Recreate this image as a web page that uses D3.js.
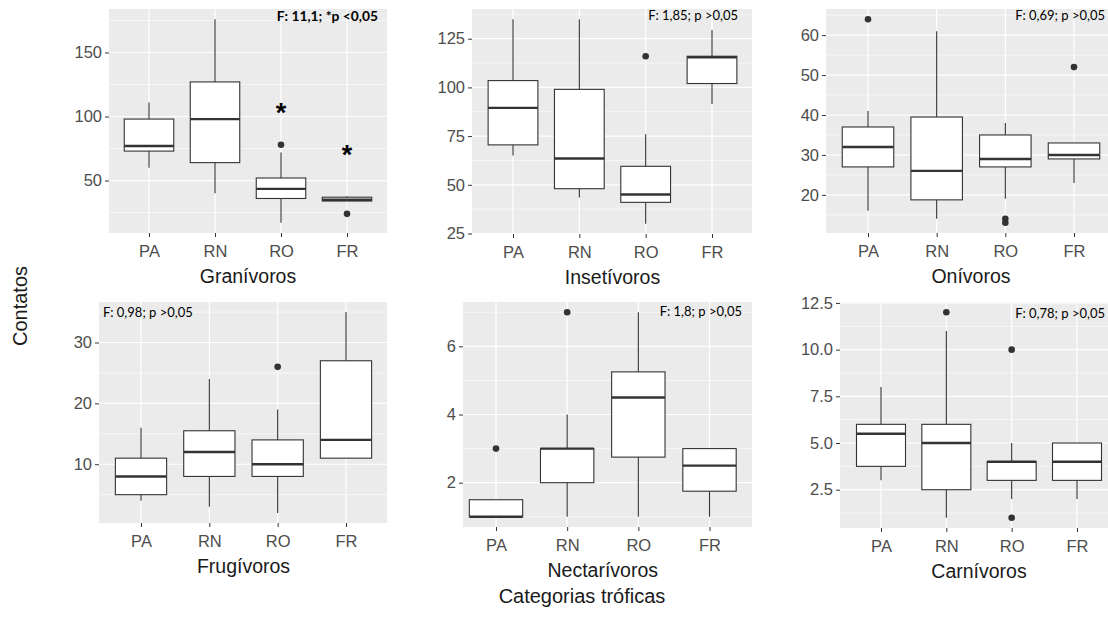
<!DOCTYPE html>
<html>
<head>
<meta charset="utf-8">
<script src="https://cdn.jsdelivr.net/npm/d3@7"></script>
<style>body{margin:0;background:#fff}</style>
</head>
<body>
<div id="chart"></div>
<script>
var groups = ["PA", "RN", "RO", "FR"];

// [min, q1, median, q3, max] for each group
var granivoros = [[60, 73, 77, 98, 111], [40, 64, 98, 127, 176], [17, 36, 43.5, 52, 72], [34, 34, 35, 37, 38]];
var granivorosOut = [[], [], [78], [24]];
var granivorosStars = [null, null, 107, 74];
var granivorosTicks = [50, 100, 150];

var insetivoros = [[65, 70.5, 89.5, 103.5, 135], [43.5, 48, 63.5, 99, 135], [30, 41, 45, 59.5, 76], [91.5, 102, 115.5, 116, 129.5]];
var insetivorosOut = [[], [], [116], []];
var insetivorosTicks = [25, 50, 75, 100, 125];

var onivoros = [[16, 27, 32, 37, 41], [14, 18.75, 26, 39.5, 61], [19, 27, 29, 35, 38], [23, 29, 30, 33, 33]];
var onivorosOut = [[64], [], [14, 13], [52]];
var onivorosTicks = [20, 30, 40, 50, 60];

var frugivoros = [[4, 5, 8, 11, 16], [3, 8, 12, 15.5, 24], [2, 8, 10, 14, 19], [11, 11, 14, 27, 35]];
var frugivorosOut = [[], [], [26], []];
var frugivorosTicks = [10, 20, 30];

var nectarivoros = [[1, 1, 1, 1.5, 1.5], [1, 2, 3, 3, 4], [1, 2.75, 4.5, 5.25, 7], [1, 1.75, 2.5, 3, 3]];
var nectarivorosOut = [[3], [7], [], []];
var nectarivorosTicks = [2, 4, 6];

var carnivoros = [[3, 3.75, 5.5, 6, 8], [1, 2.5, 5, 6, 11], [2, 3, 4, 4, 5], [2, 3, 4, 5, 5]];
var carnivorosOut = [[], [12], [10, 1], []];
var carnivorosTicks = [2.5, 5, 7.5, 10, 12.5];

var titles = ["Granívoros", "Insetívoros", "Onívoros", "Frugívoros", "Nectarívoros", "Carnívoros"];
var notes = ["F: 11,1; *p <0,05", "F: 1,85; p >0,05", "F: 0,69; p >0,05", "F: 0,98; p >0,05", "F: 1,8; p >0,05", "F: 0,78; p >0,05"];

var panels = [
    {stats: granivoros, out: granivorosOut, ticks: granivorosTicks, stars: granivorosStars, fmt: d3.format("d")},
    {stats: insetivoros, out: insetivorosOut, ticks: insetivorosTicks, fmt: d3.format("d")},
    {stats: onivoros, out: onivorosOut, ticks: onivorosTicks, fmt: d3.format("d")},
    {stats: frugivoros, out: frugivorosOut, ticks: frugivorosTicks, fmt: d3.format("d")},
    {stats: nectarivoros, out: nectarivorosOut, ticks: nectarivorosTicks, fmt: d3.format("d")},
    {stats: carnivoros, out: carnivorosOut, ticks: carnivorosTicks, fmt: d3.format(".1f")}
];

// panel rectangles and first/last category positions (the source is a pasted composite)
var layout = [
    {x0: 109, x1: 387, y0: 9, y1: 233, xa: 149, xb: 347, note: {x: 378, y: 21, anchor: "end", bold: true}},
    {x0: 472, x1: 752, y0: 9, y1: 234, xa: 513, xb: 712, note: {x: 738, y: 20, anchor: "end"}},
    {x0: 826, x1: 1116, y0: 9, y1: 233, xa: 868, xb: 1074, note: {x: 1105, y: 20, anchor: "end"}},
    {x0: 99, x1: 387, y0: 302, y1: 523, xa: 141, xb: 346, note: {x: 103, y: 317, anchor: "start"}},
    {x0: 463, x1: 752, y0: 302, y1: 527, xa: 496, xb: 709.5, note: {x: 742, y: 316, anchor: "end"}},
    {x0: 840, x1: 1116, y0: 302, y1: 528, xa: 881, xb: 1077, note: {x: 1105, y: 318, anchor: "end"}}
];

var font = "'Liberation Sans', Arial, sans-serif";
var dark = "#333333";

var svg = d3.select("#chart").append("svg")
    .attr("width", 1108)
    .attr("height", 617)
    .style("font-family", font);

panels.forEach(function (p, i) {
    var b = layout[i];
    var vals = [];
    p.stats.forEach(function (s) { vals.push(s[0], s[4]); });
    p.out.forEach(function (o) { vals = vals.concat(o); });
    var lo = d3.min(vals), hi = d3.max(vals), pad = (hi - lo) * 0.05;

    var y = d3.scaleLinear().domain([lo - pad, hi + pad]).range([b.y1, b.y0]);
    var x = d3.scalePoint().domain(groups).range([b.xa, b.xb]);
    var bw = x.step() * 0.75;

    var g = svg.append("g");

    g.append("rect")
        .attr("x", b.x0).attr("y", b.y0)
        .attr("width", b.x1 - b.x0).attr("height", b.y1 - b.y0)
        .attr("fill", "#ebebeb");

    var step = p.ticks[1] - p.ticks[0];
    var minor = d3.range(-3, p.ticks.length + 3).map(function (k) { return p.ticks[0] + (k + 0.5) * step; })
        .filter(function (v) { return v >= y.domain()[0] && v <= y.domain()[1]; });

    g.selectAll(".minor").data(minor).enter().append("line")
        .attr("x1", b.x0).attr("x2", b.x1)
        .attr("y1", y).attr("y2", y)
        .attr("stroke", "#fff").attr("stroke-width", 0.6);

    g.selectAll(".major").data(p.ticks).enter().append("line")
        .attr("x1", b.x0).attr("x2", b.x1)
        .attr("y1", y).attr("y2", y)
        .attr("stroke", "#fff").attr("stroke-width", 1.2);

    g.selectAll(".vgrid").data(groups).enter().append("line")
        .attr("x1", x).attr("x2", x)
        .attr("y1", b.y0).attr("y2", b.y1)
        .attr("stroke", "#fff").attr("stroke-width", 1.2);

    var ay = g.append("g")
        .attr("transform", "translate(" + b.x0 + ",0)")
        .call(d3.axisLeft(y).tickValues(p.ticks).tickSize(4).tickPadding(3).tickFormat(p.fmt));
    ay.attr("font-family", font).attr("font-size", 16.5);
    ay.select(".domain").remove();
    ay.selectAll("line").attr("stroke", dark);
    ay.selectAll("text").attr("fill", "#4d4d4d");

    var ax = g.append("g")
        .attr("transform", "translate(0," + b.y1 + ")")
        .call(d3.axisBottom(x).tickSize(4).tickPadding(8));
    ax.attr("font-family", font).attr("font-size", 16.5);
    ax.select(".domain").remove();
    ax.selectAll("line").attr("stroke", dark);
    ax.selectAll("text").attr("fill", "#4d4d4d");

    var bx = g.selectAll(".box").data(p.stats).enter().append("g")
        .attr("transform", function (d, j) { return "translate(" + x(groups[j]) + ",0)"; });

    bx.append("line")
        .attr("y1", function (d) { return y(d[3]); })
        .attr("y2", function (d) { return y(d[4]); })
        .attr("stroke", dark).attr("stroke-width", 1.1);
    bx.append("line")
        .attr("y1", function (d) { return y(d[1]); })
        .attr("y2", function (d) { return y(d[0]); })
        .attr("stroke", dark).attr("stroke-width", 1.1);
    bx.append("rect")
        .attr("x", -bw / 2).attr("width", bw)
        .attr("y", function (d) { return y(d[3]); })
        .attr("height", function (d) { return y(d[1]) - y(d[3]); })
        .attr("fill", "#fff").attr("stroke", dark).attr("stroke-width", 1.1);
    bx.append("line")
        .attr("x1", -bw / 2).attr("x2", bw / 2)
        .attr("y1", function (d) { return y(d[2]); })
        .attr("y2", function (d) { return y(d[2]); })
        .attr("stroke", dark).attr("stroke-width", 2.4);

    var pts = [];
    p.out.forEach(function (o, j) { o.forEach(function (v) { pts.push({g: groups[j], v: v}); }); });
    g.selectAll(".out").data(pts).enter().append("circle")
        .attr("cx", function (d) { return x(d.g); })
        .attr("cy", function (d) { return y(d.v); })
        .attr("r", 3.3)
        .attr("fill", dark);

    if (p.stars) {
        g.selectAll(".star").data(p.stars).enter()
            .filter(function (d) { return d != null; })
            .append("text")
            .attr("x", function (d) { return x(groups[p.stars.indexOf(d)]); })
            .attr("y", function (d) { return y(d) + 14; })
            .attr("text-anchor", "middle")
            .attr("font-size", 27).attr("font-weight", "bold")
            .attr("fill", "#000")
            .text("*");
    }

    g.append("text")
        .attr("x", b.note.x).attr("y", b.note.y)
        .attr("text-anchor", b.note.anchor)
        .attr("font-family", "Lato, 'Open Sans', sans-serif")
        .attr("font-size", b.note.bold ? 13.8 : 13)
        .attr("font-weight", b.note.bold ? "bold" : "normal")
        .attr("fill", "#000")
        .text(notes[i]);

    g.append("text")
        .attr("x", (b.xa + b.xb) / 2)
        .attr("y", b.y1 + 49.5)
        .attr("text-anchor", "middle")
        .attr("font-size", 19.5)
        .attr("fill", "#1a1a1a")
        .text(titles[i]);
});

svg.append("text")
    .attr("transform", "translate(20,306) rotate(-90)")
    .attr("text-anchor", "middle")
    .attr("dominant-baseline", "central")
    .attr("font-size", 20)
    .attr("fill", "#1a1a1a")
    .text("Contatos");

svg.append("text")
    .attr("x", 582).attr("y", 603)
    .attr("text-anchor", "middle")
    .attr("font-size", 20)
    .attr("fill", "#1a1a1a")
    .text("Categorias tróficas");
</script>
</body>
</html>
